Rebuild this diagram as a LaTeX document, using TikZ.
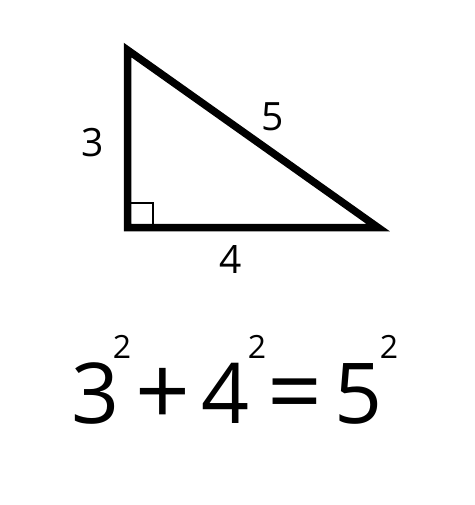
\documentclass[tikz,border=0pt]{standalone}
\usepackage{fontspec}
\setmainfont{Open Sans}
\usetikzlibrary{positioning}

\tikzset{
    side/.style={font=\fontsize{39}{39}\selectfont,inner sep=0pt},
    big/.style={font=\fontsize{84}{84}\selectfont,inner sep=0pt,anchor=base},
    sign/.style={font=\fontsize{96}{96}\selectfont,inner sep=0pt,anchor=base},
    power/.style={font=\fontsize{32}{32}\selectfont,inner sep=0pt,anchor=base},
}

\begin{document}
\begin{tikzpicture}[x=1pt,y=-1pt]
    \useasboundingbox (0,0) rectangle (474,505);
    % Corners
    \coordinate (A) at (127.5,50);
    \coordinate (B) at (127.5,227.5);
    \coordinate (C) at (378,227.5);
    % Triangle
    \draw[line width=7.5pt,line join=miter] (A) -- (B) -- (C) -- cycle;
    % Right angle
    \draw[line width=2pt] (131,203) -- (153,203) -- (153,224);
    % Labels
    \node[side] (three) at (93,143) {3};
    \node[side] (four) at (231,260) {4};
    \node[side] (five) at (273,117) {5};
    % Equation
    \node[big] (a) at (95.5,423) {3};
    \node[power] (asq) at (122,358) {2};
    \node[sign] (plus) at (162.5,425) {+};
    \node[big] (b) at (226,423) {4};
    \node[power] (bsq) at (257,358) {2};
    \node[sign] (eq) at (294.5,425) {=};
    \node[big] (c) at (358.5,423) {5};
    \node[power] (csq) at (389,358) {2};
\end{tikzpicture}
\end{document}
